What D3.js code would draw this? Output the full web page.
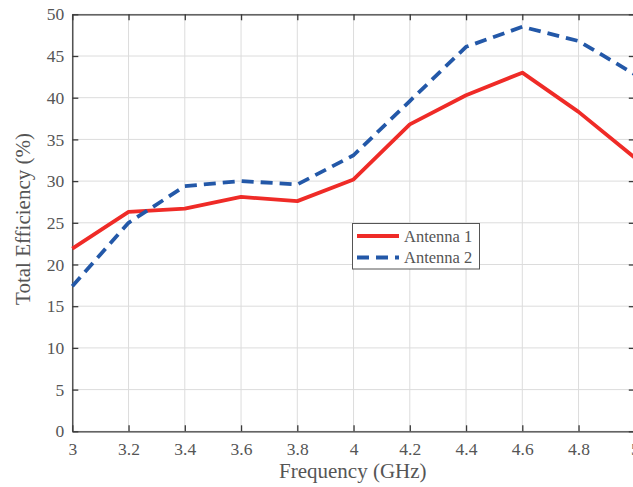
<!DOCTYPE html>
<html>
<head>
<meta charset="utf-8">
<script src="https://cdn.jsdelivr.net/npm/d3@7"></script>
<style>
  html, body { margin: 0; padding: 0; background: #fff; }
  svg { display: block; }
  text { font-family: "Liberation Serif", "Times New Roman", serif; fill: #555; }
</style>
</head>
<body>
<script>
const freq = [3.0, 3.2, 3.4, 3.6, 3.8, 4.0, 4.2, 4.4, 4.6, 4.8, 5.0];
const antenna1 = [21.9, 26.3, 26.7, 28.1, 27.6, 30.2, 36.8, 40.3, 43.0, 38.3, 32.8];
const antenna2 = [17.4, 25.0, 29.4, 30.0, 29.6, 33.1, 39.6, 46.1, 48.5, 46.8, 42.8];
const xTicks = [3, 3.2, 3.4, 3.6, 3.8, 4, 4.2, 4.4, 4.6, 4.8, 5];
const yTicks = [0, 5, 10, 15, 20, 25, 30, 35, 40, 45, 50];
const seriesNames = ["Antenna 1", "Antenna 2"];

const W = 633, H = 487;
const L = 72.3, R = 634.8, T = 14.3, B = 431.3;
const FONT = "'Liberation Serif', 'Times New Roman', serif";

const svg = d3.select("body").append("svg").attr("width", W).attr("height", H);

const x = d3.scaleLinear().domain([3, 5]).range([L, R]);
const y = d3.scaleLinear().domain([0, 50]).range([B, T]);

// grid
const grid = svg.append("g");
grid.selectAll("line.v").data(xTicks).enter().append("line")
  .attr("x1", d => x(d)).attr("x2", d => x(d)).attr("y1", T).attr("y2", B)
  .attr("stroke", "#dcdcdc").attr("stroke-width", 1);
grid.selectAll("line.h").data(yTicks).enter().append("line")
  .attr("x1", L).attr("x2", R).attr("y1", d => y(d)).attr("y2", d => y(d))
  .attr("stroke", "#dcdcdc").attr("stroke-width", 1);

// axes (ticks inward)
const axisColor = "#3a3a3a";
function styleAxis(g) {
  g.attr("font-family", FONT).attr("font-size", 17.5);
  g.select(".domain").attr("stroke", axisColor).attr("stroke-width", 1.3);
  g.selectAll(".tick line").attr("stroke", axisColor).attr("stroke-width", 1.3);
  g.selectAll(".tick text").attr("fill", "#4d4d4d").style("font-size", "17.5px")
    .style("font-family", FONT);
}
const xBottom = svg.append("g").attr("transform", `translate(0,${B})`)
  .call(d3.axisBottom(x).tickValues(xTicks).tickFormat(d3.format("")).tickSizeInner(-6).tickSizeOuter(0).tickPadding(11.3));
styleAxis(xBottom);
const xTop = svg.append("g").attr("transform", `translate(0,${T})`)
  .call(d3.axisTop(x).tickValues(xTicks).tickFormat("").tickSizeInner(-6).tickSizeOuter(0));
styleAxis(xTop);
const yLeft = svg.append("g").attr("transform", `translate(${L},0)`)
  .call(d3.axisLeft(y).tickValues(yTicks).tickFormat(d3.format("")).tickSizeInner(-6).tickSizeOuter(0).tickPadding(8));
styleAxis(yLeft);
const yRight = svg.append("g").attr("transform", `translate(${R},0)`)
  .call(d3.axisRight(y).tickValues(yTicks).tickFormat("").tickSizeInner(-6).tickSizeOuter(0));
styleAxis(yRight);

// lines
const data1 = freq.map((f, i) => [f, antenna1[i]]);
const data2 = freq.map((f, i) => [f, antenna2[i]]);
const line = d3.line().x(d => x(d[0])).y(d => y(d[1]));
const red = "#ef2b27", blue = "#2358a8";

svg.append("path").datum(data1).attr("d", line)
  .attr("fill", "none").attr("stroke", red).attr("stroke-width", 3.8).attr("stroke-linejoin", "round");
svg.append("path").datum(data2).attr("d", line)
  .attr("fill", "none").attr("stroke", blue).attr("stroke-width", 3.8)
  .attr("stroke-dasharray", "12,7").attr("stroke-linejoin", "round");

// axis titles
svg.append("text").attr("x", 352.8).attr("y", 478)
  .attr("text-anchor", "middle").style("font-size", "21px").style("font-family", FONT)
  .attr("fill", "#4d4d4d").text("Frequency (GHz)");
svg.append("text").attr("transform", `translate(29.5,219) rotate(-90)`)
  .attr("text-anchor", "middle").style("font-size", "21px").style("font-family", FONT)
  .attr("fill", "#4d4d4d").text("Total Efficiency (%)");

// legend
const lg = svg.append("g");
lg.append("rect").attr("x", 352.5).attr("y", 223.5).attr("width", 127).attr("height", 45.5)
  .attr("fill", "#fff").attr("stroke", "#555").attr("stroke-width", 1);
const legendItems = [
  { name: seriesNames[0], color: red, dash: null },
  { name: seriesNames[1], color: blue, dash: "12,7" }
];
legendItems.forEach((it, i) => {
  const cy = 236 + i * 21.5;
  lg.append("line").attr("x1", 357).attr("x2", 399).attr("y1", cy).attr("y2", cy)
    .attr("stroke", it.color).attr("stroke-width", 3.8)
    .attr("stroke-dasharray", it.dash);
  lg.append("text").attr("x", 404).attr("y", cy + 5.5)
    .style("font-size", "16.5px").style("font-family", FONT).attr("fill", "#444").text(it.name);
});
</script>
</body>
</html>
